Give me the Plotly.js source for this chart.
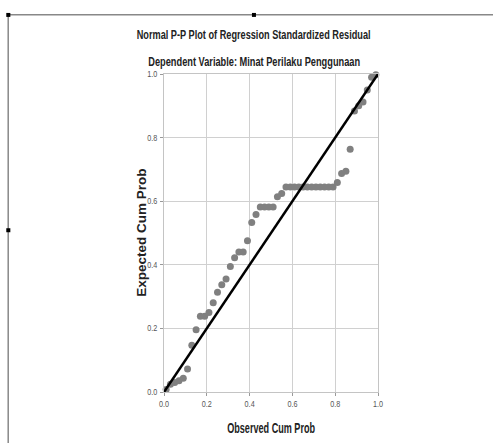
<!DOCTYPE html>
<html>
<head>
<meta charset="utf-8">
<script src="https://cdn.plot.ly/plotly-3.0.1.min.js"></script>
<style>html,body{margin:0;padding:0;background:#fff;}#chart{width:493px;height:443px;}</style>
</head>
<body>
<div id="chart"></div>
<script>
const observedCumProb = [0.01,0.03,0.05,0.07,0.09,0.11,0.13,0.15,0.17,0.19,0.21,0.23,0.25,0.27,0.29,0.31,0.33,0.35,0.37,0.39,0.41,0.43,0.45,0.47,0.49,0.51,0.53,0.55,0.57,0.59,0.61,0.63,0.65,0.67,0.69,0.71,0.73,0.75,0.77,0.79,0.81,0.83,0.85,0.87,0.89,0.91,0.93,0.95,0.97,0.99];
const expectedCumProb = [0.008,0.024,0.030,0.035,0.043,0.072,0.147,0.196,0.238,0.238,0.250,0.281,0.314,0.337,0.355,0.395,0.422,0.440,0.440,0.476,0.533,0.558,0.582,0.582,0.582,0.582,0.614,0.624,0.645,0.645,0.645,0.645,0.645,0.645,0.645,0.645,0.645,0.645,0.645,0.645,0.659,0.687,0.694,0.763,0.884,0.900,0.912,0.950,0.990,0.998];
const diagonalX = [0, 1];
const diagonalY = [0, 1];
const tickVals = [0, 0.2, 0.4, 0.6, 0.8, 1.0];
const tickText = ["0.0", "0.2", "0.4", "0.6", "0.8", "1.0"];
const titleText = "Normal P-P Plot of Regression Standardized Residual";
const subtitleText = "Dependent Variable: Minat Perilaku Penggunaan";
const xTitle = "Observed Cum Prob";
const yTitle = "Expected Cum Prob";

const sans = "'Liberation Sans', Arial, sans-serif";

const traces = [
  {x: observedCumProb, y: expectedCumProb, type: 'scatter', mode: 'markers',
   marker: {color: '#808080', size: 7}, cliponaxis: false, hoverinfo: 'x+y'},
  {x: diagonalX, y: diagonalY, type: 'scatter', mode: 'lines',
   line: {color: '#000000', width: 2.5}, cliponaxis: false, hoverinfo: 'skip'}
];

const axisCommon = {
  range: [0, 1], tickvals: tickVals, ticktext: tickText,
  showgrid: true, gridcolor: '#d0d0d0', gridwidth: 1,
  zeroline: false, showline: true, linecolor: '#c4c4c4', linewidth: 1, mirror: true,
  ticks: 'outside', ticklen: 3, tickcolor: '#999999',
  tickfont: {family: sans, size: 8.5, color: '#555555'}, fixedrange: true
};

const frameColor = '#888888';
const layout = {
  width: 493, height: 443,
  margin: {l: 164, r: 115, t: 74, b: 51},
  paper_bgcolor: '#ffffff', plot_bgcolor: '#ffffff',
  showlegend: false,
  xaxis: Object.assign({}, axisCommon, {ticklabelstandoff: 1}),
  yaxis: Object.assign({}, axisCommon, {ticklabelstandoff: 1}),
  annotations: [
    {text: titleText, xref: 'paper', yref: 'paper', x: 0.42, y: 1.123, xanchor: 'center', yanchor: 'middle',
     showarrow: false, font: {family: sans, size: 13, color: '#222222', weight: 'bold'}},
    {text: subtitleText, xref: 'paper', yref: 'paper', x: 0.42, y: 1.038, xanchor: 'center', yanchor: 'middle',
     showarrow: false, font: {family: sans, size: 13, color: '#222222', weight: 'bold'}},
    {text: xTitle, xref: 'paper', yref: 'paper', x: 0.5, y: -0.112, xanchor: 'center', yanchor: 'middle',
     showarrow: false, font: {family: sans, size: 14.5, color: '#222222', weight: 'bold'}},
    {text: yTitle, xref: 'paper', yref: 'paper', x: -0.109, y: 0.5, xanchor: 'center', yanchor: 'middle',
     textangle: -90, showarrow: false, font: {family: sans, size: 13.5, color: '#222222', weight: 'bold'}}
  ],
  shapes: [
    {type: 'line', xref: 'paper', yref: 'paper', x0: -0.728, x1: 1.6, y0: 1.186, y1: 1.186, line: {color: frameColor, width: 1.5}},
    {type: 'line', xref: 'paper', yref: 'paper', x0: -0.728, x1: -0.728, y0: 1.186, y1: -0.2, line: {color: frameColor, width: 1.5}},
    {type: 'rect', xref: 'paper', yref: 'paper', x0: -0.737, x1: -0.718, y0: 1.1795, y1: 1.192, fillcolor: '#000000', line: {width: 0}},
    {type: 'rect', xref: 'paper', yref: 'paper', x0: 0.411, x1: 0.4297, y0: 1.1795, y1: 1.192, fillcolor: '#000000', line: {width: 0}},
    {type: 'rect', xref: 'paper', yref: 'paper', x0: -0.737, x1: -0.718, y0: 0.5024, y1: 0.515, fillcolor: '#000000', line: {width: 0}}
  ]
};

// Target rendered text lengths (px) mimicking the narrow SPSS font
const narrowWidths = [234, 212, 88, null];

Plotly.newPlot('chart', traces, layout, {displayModeBar: false, staticPlot: true}).then(function (gd) {
  const texts = gd.querySelectorAll('.annotation .annotation-text');
  texts.forEach(function (t, i) {
    const target = narrowWidths[i];
    if (!target) return;
    const bb = t.getBBox();
    const s = target / bb.width;
    const cx = bb.x + bb.width / 2;
    t.setAttribute('transform', 'translate(' + cx + ',0) scale(' + s + ',1) translate(' + (-cx) + ',0)');
  });
  gd.querySelectorAll('.xtick text, .ytick text').forEach(function (t) {
    const bb = t.getBBox();
    const isY = t.closest('.ytick') !== null;
    const ax = isY ? bb.x + bb.width : bb.x + bb.width / 2;
    const prev = t.getAttribute('transform') || '';
    t.setAttribute('transform', prev + ' translate(' + ax + ',0) scale(0.85,1) translate(' + (-ax) + ',0)');
  });
});
</script>
</body>
</html>
